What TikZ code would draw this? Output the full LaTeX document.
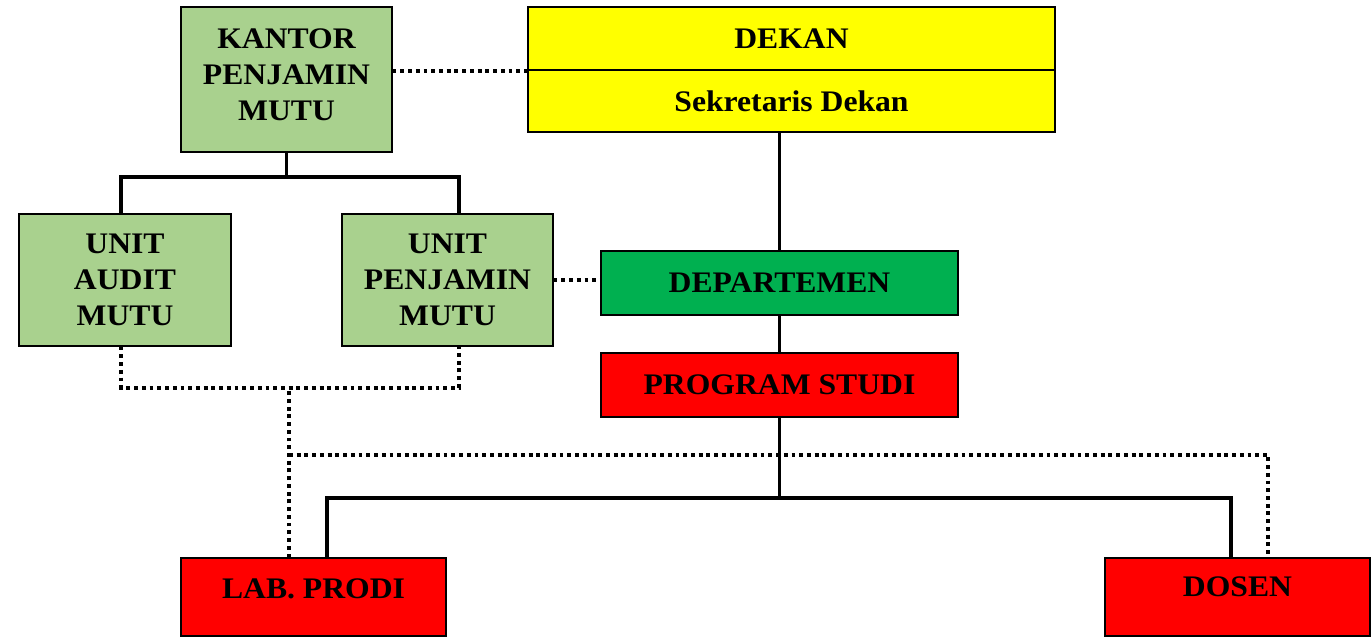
\documentclass[tikz,border=0pt]{standalone}
\usepackage{fontspec}
\setmainfont{Liberation Serif}[FakeStretch=1.06]
\usetikzlibrary{calc}
\definecolor{lg}{RGB}{169,209,142}
\definecolor{dg}{RGB}{0,176,80}
\definecolor{yc}{RGB}{255,255,0}
\definecolor{rc}{RGB}{255,0,0}
\tikzset{box/.style={draw,line width=.7pt,align=center,inner sep=2pt,font=\fontsize{17}{20.5}\selectfont\bfseries},
 lbox/.style={box,fill=lg},gbox/.style={box,fill=dg},
 ybox/.style={box,fill=yc},rbox/.style={box,fill=rc},
 wire/.style={line width=2.2pt},
 dotw/.style={line width=2.2pt,dash pattern=on 2.2pt off 2.2pt}}
\begin{document}
\begin{tikzpicture}[x=0.02cm,y=-0.02cm]
\useasboundingbox (0,0) rectangle (1371,644);
\node[lbox,minimum width=4.22cm,minimum height=2.9cm,text depth=0.2cm] (kpm) at (286.5,79.5) {KANTOR\\PENJAMIN\\MUTU};
\node[ybox,minimum width=10.54cm,minimum height=1.26cm] (dekan) at (791.5,38.5) {DEKAN};
\node[ybox,minimum width=10.54cm,minimum height=1.24cm] (sek) at (791.5,101) {Sekretaris Dekan};
\node[lbox,minimum width=4.24cm,minimum height=2.64cm] (uam) at (125,280) {UNIT\\AUDIT\\MUTU};
\node[lbox,minimum width=4.22cm,minimum height=2.64cm] (upm) at (447.5,280) {UNIT\\PENJAMIN\\MUTU};
\node[gbox,minimum width=7.14cm,minimum height=1.28cm] (dept) at (779.5,283) {DEPARTEMEN};
\node[rbox,minimum width=7.14cm,minimum height=1.28cm] (prodi) at (779.5,385) {PROGRAM STUDI};
\node[rbox,minimum width=5.3cm,minimum height=1.56cm,text depth=0.33cm] (lab) at (313.5,597) {LAB. PRODI};
\node[rbox,minimum width=5.3cm,minimum height=1.56cm,text depth=0.4cm] (dosen) at (1237.5,597) {DOSEN};
% garis komando
\draw[wire] (kpm.south) -- ++(0,26);
\draw[wire] ($(uam.north)+(-4,0)$) -- ++(0,-36) -| ($(upm.north)+(11.5,0)$);
\draw[wire] (sek.south -| dept.north) -- (dept.north);
\draw[wire] (dept.south) -- (prodi.north);
\draw[wire] (prodi.south) -- ++(0,80) coordinate (pj);
\draw[wire] ($(lab.north)+(13.5,0)$) |- (pj) -| ($(dosen.north)+(-6.5,0)$);
% garis koordinasi
\draw[dotw] (kpm.east |- dekan.south west) -- (dekan.south west);
\draw[dotw] (upm.east) -- (upm.east -| dept.west);
\draw[dotw] ($(uam.south)+(-4,0)$) -- ++(0,41) coordinate (aj) -| ($(upm.south)+(11.5,0)$);
\draw[dotw] ($(lab.north)+(-24.5,0)$) coordinate (lt) -- (lt |- aj);
\draw[dotw] ($(lt |- aj)+(0,67)$) -| ($(dosen.north)+(30.5,0)$);
\end{tikzpicture}
\end{document}
